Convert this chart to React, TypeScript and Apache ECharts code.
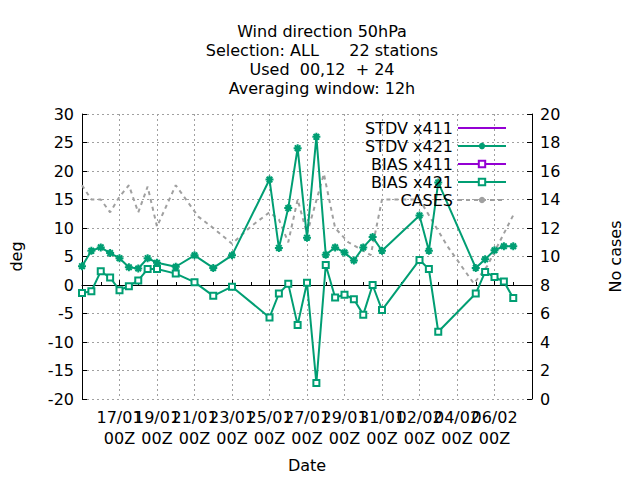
import { useEffect, useRef } from "react";
import * as echarts from "echarts";

// x values are days since 15/01 00Z
const dateLabels = ["15/01", "17/01", "19/01", "21/01", "23/01", "25/01", "27/01", "29/01", "31/01", "02/02", "04/02", "06/02", "08/02"];
const days = [0, 0.5, 1, 1.5, 2, 2.5, 3, 3.5, 4, 5, 6, 7, 8, 10, 10.5, 11, 11.5, 12, 12.5, 13, 13.5, 14, 14.5, 15, 15.5, 16, 18, 18.5, 19, 21, 21.5, 22, 22.5, 23];
const stdv421 = [3.3, 6, 6.6, 5.6, 4.7, 3.1, 2.9, 4.7, 3.9, 3.2, 5.2, 3, 5.2, 18.5, 6.5, 13.5, 24, 8.3, 26, 5.3, 6.6, 5.7, 4.3, 6.6, 8.4, 6, 12.2, 6, 18, 3, 4.5, 6.1, 6.8, 6.8];
const bias421 = [-1.4, -1.1, 2.4, 1.3, -0.9, -0.2, 0.8, 2.8, 2.8, 2.0, 0.5, -1.9, -0.3, -5.7, -1.5, 0.2, -7, 0.4, -17.2, 3.5, -2.2, -1.7, -2.5, -5.2, 0, -4.4, 4.4, 2.8, -8.2, -1.5, 2.3, 1.4, 0.6, -2.3];
const caseDays = [0, 0.5, 1, 1.5, 2, 2.5, 3, 3.5, 4, 5, 6.2, 7, 8, 9, 10, 10.5, 11, 11.5, 12, 12.9, 13.5, 14.2, 15.4, 16, 18, 19.5, 20.9, 21.6, 23];
const cases = [15.0, 14.0, 14.0, 13.1, 14.2, 15.0, 13.1, 14.9, 12.1, 15.0, 12.8, 12.0, 10.9, 12.1, 13.1, 12.6, 11.0, 14.0, 11.6, 15.8, 12.0, 11.0, 10.1, 14.0, 14.0, 10.7, 8.1, 9.3, 12.9];

const PURPLE = "#9400d3";
const GREEN = "#009e73";
const STAR = "path://M5,0L5,10M0,5L10,5M1.5,1.5L8.5,8.5M8.5,1.5L1.5,8.5";
const FONT = "DejaVu Sans";
const FS = 16;

export default function App() {
  const ref = useRef<HTMLDivElement | null>(null);

  useEffect(() => {
    if (!ref.current) return;
    const chart = echarts.init(ref.current, undefined, { renderer: "svg" });
    const pair = (ys: number[], xs: number[]) => ys.map((y, i) => [xs[i], y]);
    const split = { show: true, lineStyle: { color: "#a0a0a0", type: [2, 3] as any, width: 1 } };
    const lbl = { color: "#000", fontFamily: FONT, fontSize: FS };
    const nameStyle = { fontSize: FS, color: "#000", fontFamily: FONT };

    chart.setOption({
      animation: false,
      textStyle: { fontFamily: FONT },
      title: {
        text: "Wind direction 50hPa\nSelection: ALL      22 stations\nUsed  00,12  + 24\nAveraging window: 12h",
        left: 317, top: 17, textAlign: "center",
        textStyle: { fontSize: FS, fontWeight: "normal", color: "#000", lineHeight: 19, fontFamily: FONT },
      },
      grid: { left: 79, right: 108, top: 114, bottom: 81 },
      legend: {
        right: 128, top: 115, orient: "vertical", align: "right", itemGap: 2,
        itemWidth: 48, itemHeight: 8,
        textStyle: { fontSize: FS, color: "#000", fontFamily: FONT },
        data: ["STDV x411", "STDV x421", "BIAS x411", "BIAS x421", "CASES"],
      },
      xAxis: {
        type: "value", min: 0, max: 24, interval: 2,
        name: "Date", nameLocation: "middle", nameGap: 58, nameTextStyle: nameStyle,
        axisLine: { lineStyle: { color: "#000" } },
        axisTick: { inside: true, lineStyle: { color: "#000" } },
        minorTick: { show: true, splitNumber: 2, length: 3, lineStyle: { color: "#000" } },
        axisLabel: { ...lbl, lineHeight: 21, margin: 8, formatter: (v: number) => `${dateLabels[v / 2]}\n00Z` },
        splitLine: split,
      },
      yAxis: [
        {
          type: "value", min: -20, max: 30, interval: 5,
          name: "deg", nameLocation: "middle", nameGap: 58, nameTextStyle: nameStyle,
          axisLine: { show: true, lineStyle: { color: "#000" } },
          axisTick: { inside: true, lineStyle: { color: "#000" } },
          axisLabel: lbl,
          splitLine: split,
        },
        {
          type: "value", min: 0, max: 20, interval: 2,
          name: "No cases", nameLocation: "middle", nameGap: 75, nameRotate: 90, nameTextStyle: nameStyle,
          axisLine: { show: true, lineStyle: { color: "#000" } },
          axisTick: { inside: true, lineStyle: { color: "#000" } },
          axisLabel: lbl,
          splitLine: { show: false },
        },
      ],
      series: [
        { name: "STDV x411", type: "line", data: [], symbol: STAR, symbolSize: 8, itemStyle: { color: PURPLE }, lineStyle: { color: PURPLE, width: 2 } },
        {
          name: "STDV x421", type: "line", data: pair(stdv421, days), symbol: STAR, symbolSize: 8,
          itemStyle: { color: GREEN, borderColor: GREEN, borderWidth: 2 }, lineStyle: { color: GREEN, width: 2 },
        },
        { name: "BIAS x411", type: "line", data: [], symbol: "emptyRect", symbolSize: 6, itemStyle: { color: PURPLE, borderWidth: 1.2 }, lineStyle: { color: PURPLE, width: 2 } },
        {
          name: "BIAS x421", type: "line", data: pair(bias421, days), symbol: "emptyRect", symbolSize: 6,
          itemStyle: { color: GREEN, borderColor: GREEN, borderWidth: 1.2 }, lineStyle: { color: GREEN, width: 2 },
        },
        {
          name: "CASES", type: "line", yAxisIndex: 1, data: pair(cases, caseDays), symbol: "none", z: 1,
          itemStyle: { color: "#a0a0a0" }, lineStyle: { color: "#a0a0a0", width: 2, type: [4, 4] as any },
        },
      ],
    });
    return () => chart.dispose();
  }, []);

  return <div ref={ref} style={{ width: 640, height: 480, position: "absolute", left: 0, top: 0 }} />;
}
